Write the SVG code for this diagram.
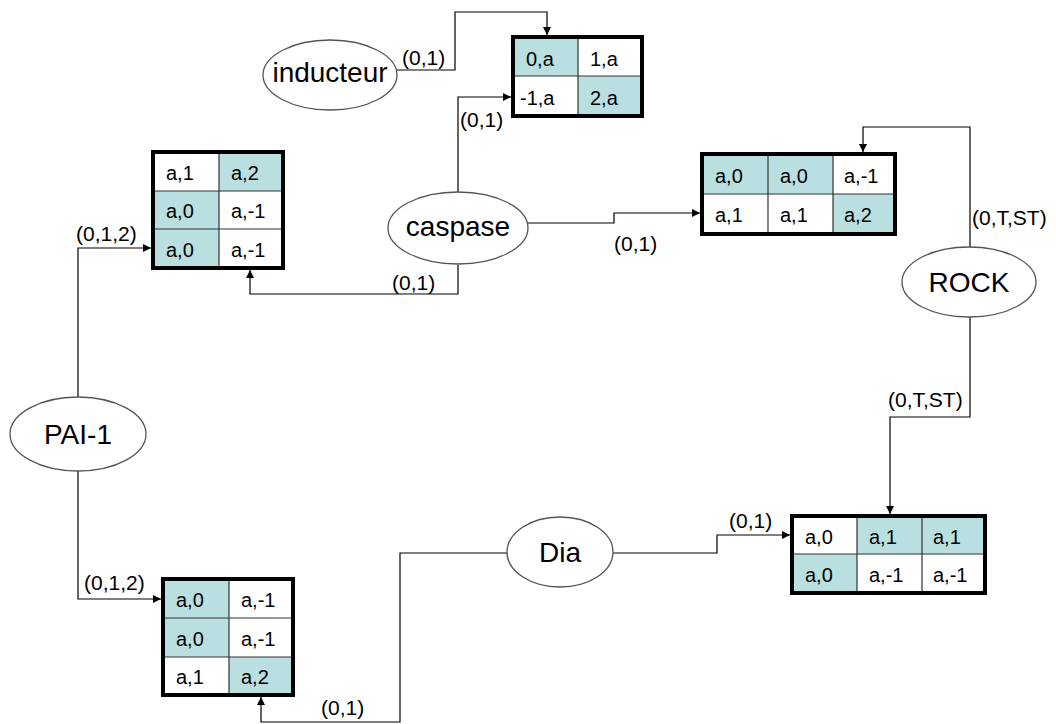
<svg xmlns="http://www.w3.org/2000/svg" width="1056" height="724" viewBox="0 0 1056 724">
<defs>
<marker id="arr" viewBox="0 0 10 10" refX="10" refY="5" markerWidth="8" markerHeight="8" markerUnits="userSpaceOnUse" orient="auto">
<path d="M0,0 L10,5 L0,10 z" fill="#000"/>
</marker>
<style>
.bg{fill:#fff}
.ell{fill:#fff;stroke:#555;stroke-width:1.3}
.et{font-family:"Liberation Sans",Arial,sans-serif;font-size:28px;fill:#000;text-anchor:middle}
.ct{font-family:"Liberation Sans",Arial,sans-serif;font-size:20px;fill:#000}
.lb{font-family:"Liberation Sans",Arial,sans-serif;font-size:21px;fill:#000}
.t{fill:#badfe1}
.w{fill:#fff}
.grid{stroke:#333;stroke-width:1.2;fill:none}
.frame{fill:none;stroke:#000;stroke-width:4}
.conn{fill:none;stroke:#000;stroke-width:1.2;marker-end:url(#arr)}
</style>
</defs>
<rect class="bg" x="0" y="0" width="1056" height="724"/>

<g id="connectors">
<path class="conn" d="M397,70 H455 V12 H547 V35"/>
<path class="conn" d="M458,192 V97 H511"/>
<path class="conn" d="M458,265 V294 H250 V270"/>
<path class="conn" d="M527,223 H614 V213 H700"/>
<path class="conn" d="M970,247 V127 H863 V152"/>
<path class="conn" d="M970,317 V417 H890 V514"/>
<path class="conn" d="M78,397 V248 H151"/>
<path class="conn" d="M78,471 V599 H161"/>
<path class="conn" d="M507,553 H400 V722 H261 V697"/>
<path class="conn" d="M613,553 H717 V535 H790"/>
<text class="lb" x="402" y="65">(0,1)</text>
<text class="lb" x="460" y="127">(0,1)</text>
<text class="lb" x="392" y="290">(0,1)</text>
<text class="lb" x="614" y="251">(0,1)</text>
<text class="lb" x="972" y="225">(0,T,ST)</text>
<text class="lb" x="888" y="407">(0,T,ST)</text>
<text class="lb" x="76" y="241">(0,1,2)</text>
<text class="lb" x="84" y="590">(0,1,2)</text>
<text class="lb" x="321" y="715">(0,1)</text>
<text class="lb" x="729" y="528">(0,1)</text>
</g>

<g id="inducteur">
<ellipse class="ell" cx="330" cy="75" rx="67" ry="35"/>
<text class="et" x="330" y="82">inducteur</text>
</g>

<g id="caspase">
<ellipse class="ell" cx="458" cy="228" rx="70" ry="36"/>
<text class="et" x="458" y="236">caspase</text>
</g>

<g id="ROCK">
<ellipse class="ell" cx="969" cy="282" rx="67" ry="35"/>
<text class="et" x="969" y="292">ROCK</text>
</g>

<g id="PAI-1">
<ellipse class="ell" cx="78" cy="434" rx="68" ry="37"/>
<text class="et" x="78" y="444">PAI-1</text>
</g>

<g id="Dia">
<ellipse class="ell" cx="560" cy="552" rx="53" ry="35"/>
<text class="et" x="560" y="562">Dia</text>
</g>

<g id="table-top">
<rect class="t" x="513" y="37" width="65" height="39"/>
<rect class="w" x="578" y="37" width="64" height="39"/>
<rect class="w" x="513" y="76" width="65" height="40"/>
<rect class="t" x="578" y="76" width="64" height="40"/>
<path class="grid" d="M578,37 V116 M513,76 H642"/>
<rect class="frame" x="513" y="37" width="129" height="79"/>
<text class="ct" x="526" y="66">0,a</text>
<text class="ct" x="590" y="66">1,a</text>
<text class="ct" x="520" y="105">-1,a</text>
<text class="ct" x="590" y="105">2,a</text>
</g>

<g id="table-left">
<rect class="w" x="153" y="152" width="66" height="39"/>
<rect class="t" x="219" y="152" width="64" height="39"/>
<rect class="t" x="153" y="191" width="66" height="38"/>
<rect class="w" x="219" y="191" width="64" height="38"/>
<rect class="t" x="153" y="229" width="66" height="39"/>
<rect class="w" x="219" y="229" width="64" height="39"/>
<path class="grid" d="M219,152 V268 M153,191 H283 M153,229 H283"/>
<rect class="frame" x="153" y="152" width="130" height="116"/>
<text class="ct" x="166" y="180">a,1</text>
<text class="ct" x="231" y="180">a,2</text>
<text class="ct" x="166" y="218">a,0</text>
<text class="ct" x="231" y="218">a,-1</text>
<text class="ct" x="166" y="257">a,0</text>
<text class="ct" x="231" y="257">a,-1</text>
</g>

<g id="table-right">
<rect class="t" x="702" y="154" width="66" height="40"/>
<rect class="t" x="768" y="154" width="65" height="40"/>
<rect class="w" x="833" y="154" width="62" height="40"/>
<rect class="w" x="702" y="194" width="66" height="40"/>
<rect class="w" x="768" y="194" width="65" height="40"/>
<rect class="t" x="833" y="194" width="62" height="40"/>
<path class="grid" d="M768,154 V234 M833,154 V234 M702,194 H895"/>
<rect class="frame" x="702" y="154" width="193" height="80"/>
<text class="ct" x="715" y="183">a,0</text>
<text class="ct" x="780" y="183">a,0</text>
<text class="ct" x="844" y="183">a,-1</text>
<text class="ct" x="715" y="222">a,1</text>
<text class="ct" x="780" y="222">a,1</text>
<text class="ct" x="844" y="222">a,2</text>
</g>

<g id="table-bottom-left">
<rect class="t" x="163" y="579" width="66" height="39"/>
<rect class="w" x="229" y="579" width="64" height="39"/>
<rect class="t" x="163" y="618" width="66" height="39"/>
<rect class="w" x="229" y="618" width="64" height="39"/>
<rect class="w" x="163" y="657" width="66" height="38"/>
<rect class="t" x="229" y="657" width="64" height="38"/>
<path class="grid" d="M229,579 V695 M163,618 H293 M163,657 H293"/>
<rect class="frame" x="163" y="579" width="130" height="116"/>
<text class="ct" x="176" y="607">a,0</text>
<text class="ct" x="241" y="607">a,-1</text>
<text class="ct" x="176" y="646">a,0</text>
<text class="ct" x="241" y="646">a,-1</text>
<text class="ct" x="176" y="684">a,1</text>
<text class="ct" x="241" y="684">a,2</text>
</g>

<g id="table-bottom-right">
<rect class="w" x="792" y="516" width="65" height="38"/>
<rect class="t" x="857" y="516" width="65" height="38"/>
<rect class="t" x="922" y="516" width="63" height="38"/>
<rect class="t" x="792" y="554" width="65" height="39"/>
<rect class="w" x="857" y="554" width="65" height="39"/>
<rect class="w" x="922" y="554" width="63" height="39"/>
<path class="grid" d="M857,516 V593 M922,516 V593 M792,554 H985"/>
<rect class="frame" x="792" y="516" width="193" height="77"/>
<text class="ct" x="805" y="544">a,0</text>
<text class="ct" x="869" y="544">a,1</text>
<text class="ct" x="933" y="544">a,1</text>
<text class="ct" x="805" y="582">a,0</text>
<text class="ct" x="869" y="582">a,-1</text>
<text class="ct" x="933" y="582">a,-1</text>
</g>
</svg>
